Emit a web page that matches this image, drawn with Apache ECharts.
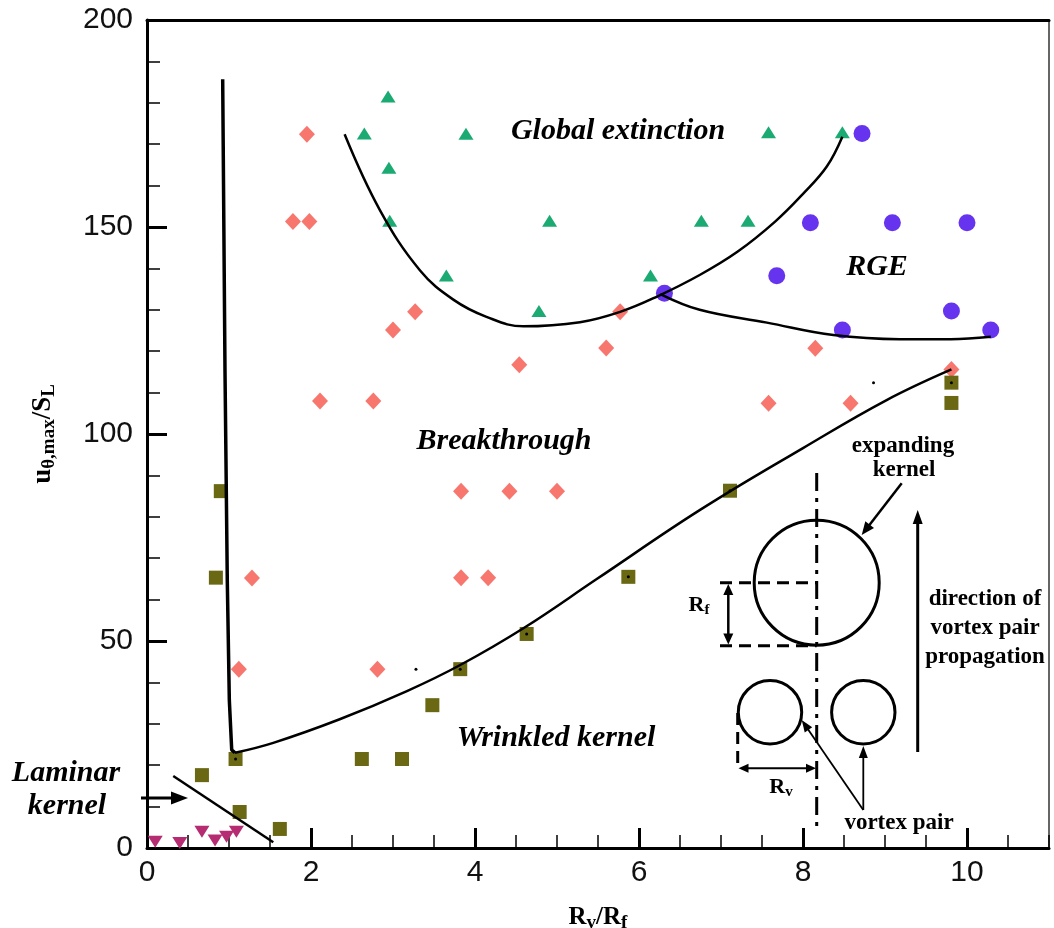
<!DOCTYPE html>
<html><head><meta charset="utf-8">
<script src="https://cdn.jsdelivr.net/npm/echarts@6/dist/echarts.min.js"></script>
<style>html,body{margin:0;padding:0;background:#fff}#c{width:1054px;height:928px}</style>
</head><body><div id="c"></div>
<script>
// ---------- data ----------
const breakthrough = [[1.95,172.4],[1.78,151.3],[1.98,151.3],[3.27,129.5],[3.00,125.1],[5.77,129.5],[5.60,120.8],[4.54,116.7],[2.11,108.0],[2.76,108.0],[8.15,120.7],[7.58,107.4],[8.58,107.4],[9.81,115.6],[3.83,86.2],[4.42,86.2],[5.00,86.2],[3.83,65.3],[4.16,65.3],[1.28,65.2],[1.12,43.2],[2.81,43.2]];
const globalExtinction = [[2.94,181.5],[2.65,172.6],[3.89,172.5],[2.95,164.3],[2.96,151.5],[4.91,151.5],[6.76,151.5],[7.33,151.5],[3.65,138.3],[6.14,138.3],[4.78,129.7],[7.58,172.9],[8.48,172.9]];
const rge = [[8.72,172.6],[8.09,151.0],[9.09,151.0],[10.0,151.0],[7.68,138.2],[6.31,134.0],[8.48,125.1],[9.81,129.7],[10.29,125.1]];
const wrinkledKernel = [[0.90,86.2],[0.84,65.3],[0.67,17.6],[1.08,21.5],[1.13,8.7],[1.62,4.6],[2.62,21.5],[3.11,21.5],[3.48,34.5],[3.82,43.2],[4.63,51.7],[5.87,65.5],[7.11,86.3],[9.81,112.4],[9.81,107.5]];
const laminarKernel = [[0.10,1.5],[0.40,1.2],[0.67,3.9],[0.83,1.8],[0.97,2.7],[1.09,3.9]];
const knotDots = [[1.08,21.5],[3.82,43.2],[4.63,51.7],[5.87,65.5],[7.11,86.3],[9.81,112.4],[3.28,43.2],[8.86,112.4]];

const boundaryBreakthrough = [[0.923,185.7],[0.951,115.5],[0.979,64.7],[1.004,35.7],[1.033,23.7],[1.073,23.0]];
const boundaryWrinkled = [[1.073,23.0],[1.54,25.4],[2.35,31.1],[3.17,37.9],[3.82,44.2],[4.6,53.2],[5.48,64.9],[6.74,81.6],[8.0,96.6],[9.02,108.2],[9.81,115.6]];
const boundaryExtinction = [[2.41,172.4],[2.84,154.1],[3.33,139.5],[3.74,132.4],[4.14,128.3],[4.59,126.0],[5.28,127.0],[5.77,129.5],[6.22,133.2],[6.74,138.4],[7.2,144.0],[7.66,151.3],[8.0,158.0],[8.29,164.6],[8.48,171.8]];
const boundaryRGE = [[6.26,133.8],[6.74,130.0],[7.56,126.9],[8.37,123.9],[9.18,122.9],[9.8,122.9],[10.29,123.5]];
const boundaryLaminar = [[0.32,17.4],[1.54,1.4]];

const xRange = [0, 11];
const yRange = [0, 200];

// ---------- helpers for annotation drawing ----------
const SERIF = '"Liberation Serif", "Times New Roman", serif';
function head(x, y, ang, len, wid) {
  const bx = x - len * Math.cos(ang), by = y - len * Math.sin(ang);
  const px = -Math.sin(ang) * wid / 2, py = Math.cos(ang) * wid / 2;
  return {type:'polygon', z:100, shape:{points:[[x,y],[bx+px,by+py],[bx-px,by-py]]}, style:{fill:'#000'}};
}
function arrow(x1, y1, x2, y2, lw, len, wid, both) {
  const ang = Math.atan2(y2 - y1, x2 - x1);
  const out = [];
  const sx = both ? x1 + (len*0.8) * Math.cos(ang) : x1, sy = both ? y1 + (len*0.8) * Math.sin(ang) : y1;
  const ex = x2 - (len*0.8) * Math.cos(ang), ey = y2 - (len*0.8) * Math.sin(ang);
  out.push({type:'line', z:100, shape:{x1:sx,y1:sy,x2:ex,y2:ey}, style:{stroke:'#000', lineWidth:lw}});
  out.push(head(x2, y2, ang, len, wid));
  if (both) out.push(head(x1, y1, ang + Math.PI, len, wid));
  return out;
}
function line(x1, y1, x2, y2, lw, dash) {
  return {type:'line', z:100, shape:{x1,y1,x2,y2}, style:{stroke:'#000', lineWidth:lw, lineDash:dash || null}};
}
function circ(cx, cy, r, lw) {
  return {type:'circle', z:100, shape:{cx,cy,r}, style:{stroke:'#000', fill:null, lineWidth:lw}};
}
function txt(x, y, text, size, italic) {
  return {type:'text', z:100, x, y, style:{text, fontFamily:SERIF, fontSize:size, fontWeight:'bold', fontStyle: italic ? 'italic' : 'normal', fill:'#000', align:'center', verticalAlign:'middle'}};
}
function subTxt(x, y, main, sub, size, subSize) {
  return {type:'text', z:100, x, y, style:{text:'{b|' + main + '}{s|' + sub + '}', align:'center', verticalAlign:'middle',
    rich:{b:{fontFamily:SERIF, fontSize:size, fontWeight:'bold', fill:'#000', lineHeight:size+4},
          s:{fontFamily:SERIF, fontSize:subSize, fontWeight:'bold', fill:'#000', lineHeight:subSize-3, verticalAlign:'bottom'}}}};
}

const graphics = [].concat(
  // region labels
  txt(618, 131, 'Global extinction', 30, true),
  txt(877, 267, 'RGE', 30, true),
  txt(504, 441, 'Breakthrough', 30, true),
  txt(556, 738, 'Wrinkled kernel', 30, true),
  txt(66, 773, 'Laminar', 30, true),
  txt(67, 806, 'kernel', 30, true),
  arrow(141, 798, 188, 798, 3, 17, 13, false),
  // inset schematic
  line(816.7, 473, 816.7, 828, 3, [18, 7, 4, 7]),
  circ(816.7, 582.7, 62.5, 3),
  line(720, 582.7, 816.7, 582.7, 3, [12, 7]),
  line(720, 645.7, 816.7, 645.7, 3, [12, 7]),
  arrow(728.3, 584, 728.3, 644.5, 2.5, 11, 10, true),
  subTxt(699, 605, 'R', 'f', 22, 15),
  arrow(901.7, 483.3, 861.7, 535, 2.5, 13, 11, false),
  txt(903, 446, 'expanding', 23, false),
  txt(904, 470, 'kernel', 23, false),
  arrow(917.7, 752, 917.7, 510, 3, 14, 10, false),
  txt(985, 599, 'direction of', 23, false),
  txt(985, 628, 'vortex pair', 23, false),
  txt(985, 657, 'propagation', 23, false),
  circ(770, 712.3, 31.7, 3),
  circ(863.3, 712.3, 31.7, 3),
  line(737.7, 713, 737.7, 767, 3, [12, 7]),
  arrow(738.5, 768.3, 816, 768.3, 2, 10, 9, true),
  subTxt(781, 787, 'R', 'v', 22, 15),
  txt(899, 823, 'vortex pair', 23, false),
  arrow(863.3, 810, 801.7, 720, 1.8, 12, 9, false),
  arrow(863.3, 810, 863.3, 746, 1.8, 12, 9, false)
);

const tickFont = {fontFamily:'"Liberation Sans", Arial, sans-serif', fontSize:30, color:'#111'};
const nameRich = {
  b:{fontFamily:SERIF, fontSize:27, fontWeight:'bold', color:'#000', lineHeight:32},
  s:{fontFamily:SERIF, fontSize:19, fontWeight:'bold', color:'#000', lineHeight:16, verticalAlign:'bottom'}
};
const xNameRich = {
  b:{fontFamily:SERIF, fontSize:25, fontWeight:'bold', color:'#000', lineHeight:30},
  s:{fontFamily:SERIF, fontSize:19, fontWeight:'bold', color:'#000', lineHeight:14, verticalAlign:'bottom'}
};

function scatter(data, symbol, size, color, rotate) {
  return {type:'scatter', xAxisIndex:0, yAxisIndex:0, data, symbol, symbolSize:size, symbolRotate:rotate || 0,
    itemStyle:{color, opacity:1}, z:2, silent:true};
}
function curve(data, width, smooth) {
  return {type:'line', xAxisIndex:0, yAxisIndex:0, data, symbol:'none', showSymbol:false, smooth: smooth || false,
    lineStyle:{color:'#000', width}, z:3, silent:true};
}

const chart = echarts.init(document.getElementById('c'), null, {renderer:'canvas'});
chart.setOption({
  animation:false,
  backgroundColor:'#fff',
  grid:{left:147, right:5, top:20, bottom:80, containLabel:false, outerBoundsMode:'none'},
  xAxis:[
    {type:'value', position:'bottom', min:xRange[0], max:xRange[1], interval:2,
     axisLine:{show:true, onZero:false, lineStyle:{color:'#000', width:3}},
     axisTick:{show:true, inside:true, length:20, lineStyle:{color:'#000', width:3}},
     minorTick:{show:false}, splitLine:{show:false},
     axisLabel:Object.assign({margin:10, showMaxLabel:false}, tickFont),
     name:'{b|R}{s|v}{b|/R}{s|f}', nameLocation:'middle', nameGap:55,
     nameTextStyle:{rich:xNameRich}},
    {type:'value', position:'bottom', min:xRange[0], max:xRange[1], interval:0.5,
     axisLine:{show:false, onZero:false},
     axisTick:{show:true, inside:true, length:13, lineStyle:{color:'#000', width:1.5}},
     axisLabel:{show:false}, splitLine:{show:false}},
    {type:'value', position:'top', min:xRange[0], max:xRange[1],
     axisLine:{show:true, onZero:false, lineStyle:{color:'#000', width:3}},
     axisTick:{show:false}, axisLabel:{show:false}, splitLine:{show:false}}
  ],
  yAxis:[
    {type:'value', position:'left', min:yRange[0], max:yRange[1], interval:50,
     axisLine:{show:true, onZero:false, lineStyle:{color:'#000', width:3}},
     axisTick:{show:true, inside:true, length:20, lineStyle:{color:'#000', width:3}},
     minorTick:{show:true, splitNumber:5, length:13, lineStyle:{color:'#000', width:1.5}},
     splitLine:{show:false}, minorSplitLine:{show:false},
     axisLabel:Object.assign({margin:14}, tickFont),
     name:'{b|u}{s|θ,max}{b|/S}{s|L}', nameLocation:'middle', nameGap:88, nameRotate:90,
     nameTextStyle:{rich:nameRich}},
    {type:'value', position:'right', min:yRange[0], max:yRange[1],
     axisLine:{show:true, onZero:false, lineStyle:{color:'#333', width:1.5}},
     axisTick:{show:false}, axisLabel:{show:false}, splitLine:{show:false}}
  ],
  series:[
    scatter(breakthrough, 'diamond', [16, 17], '#F7766E'),
    scatter(globalExtinction, 'triangle', [15, 12], '#1BAA72'),
    scatter(rge, 'circle', 17, '#6633EE'),
    scatter(wrinkledKernel, 'rect', 14, '#6A6812'),
    scatter(laminarKernel, 'triangle', [15, 12], '#B52C72', 180),
    Object.assign(scatter(knotDots, 'circle', 3, '#000'), {z:4}),
    curve(boundaryBreakthrough, 3.5, false),
    curve(boundaryWrinkled, 2.5, 0.4),
    curve(boundaryExtinction, 2.5, 0.4),
    curve(boundaryRGE, 2.5, 0.4),
    curve(boundaryLaminar, 2.5, false)
  ],
  graphic:{elements:graphics}
});
</script>
</body></html>
